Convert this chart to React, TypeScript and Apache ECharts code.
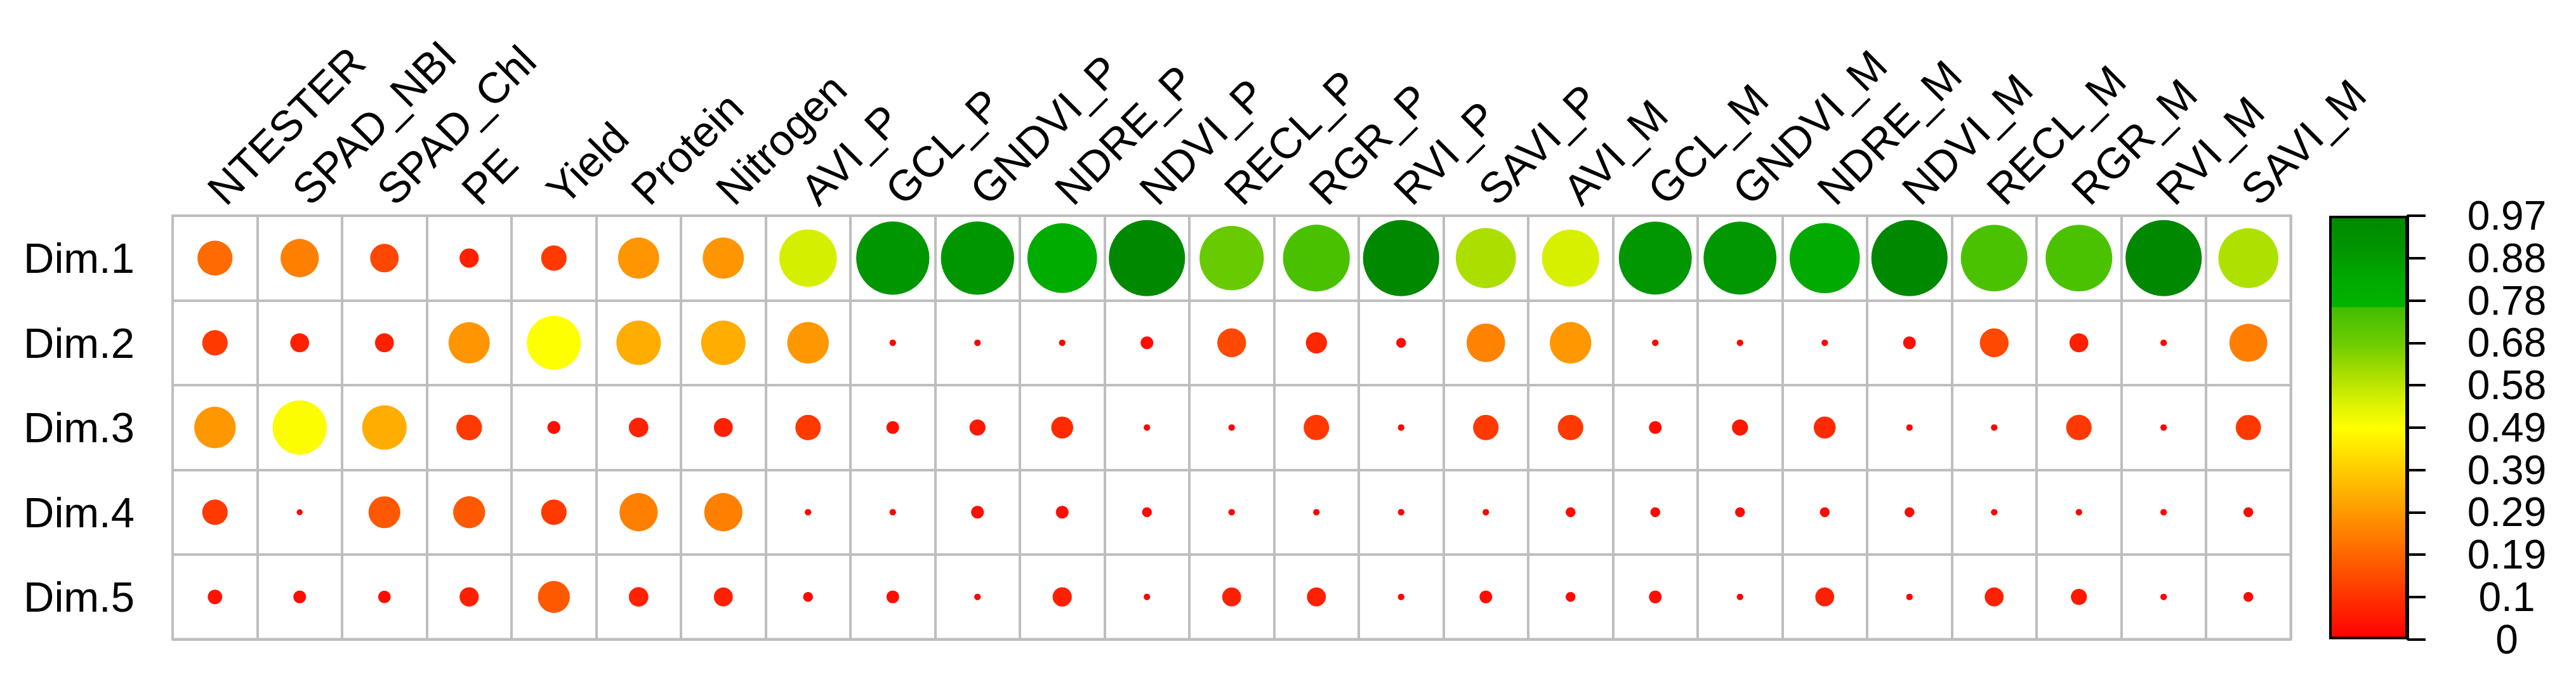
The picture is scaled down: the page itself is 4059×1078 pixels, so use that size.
import React, { useEffect, useRef } from "react";
import * as echarts from "echarts";

// ---------- data ----------
const variables = [
  "NTESTER", "SPAD_NBI", "SPAD_Chl", "PE", "Yield", "Protein", "Nitrogen",
  "AVI_P", "GCL_P", "GNDVI_P", "NDRE_P", "NDVI_P", "RECL_P", "RGR_P", "RVI_P", "SAVI_P",
  "AVI_M", "GCL_M", "GNDVI_M", "NDRE_M", "NDVI_M", "RECL_M", "RGR_M", "RVI_M", "SAVI_M",
];
const dims = ["Dim.1", "Dim.2", "Dim.3", "Dim.4", "Dim.5"];

const dim1 = [0.204, 0.244, 0.135, 0.062, 0.108, 0.283, 0.283, 0.551, 0.894, 0.894, 0.81, 0.97, 0.69, 0.745, 0.97, 0.604, 0.546, 0.888, 0.888, 0.823, 0.97, 0.742, 0.742, 0.97, 0.599];
const dim2 = [0.108, 0.06, 0.06, 0.283, 0.486, 0.33, 0.33, 0.287, 0.007, 0.007, 0.007, 0.027, 0.138, 0.075, 0.016, 0.247, 0.287, 0.007, 0.007, 0.007, 0.027, 0.138, 0.06, 0.007, 0.24];
const dim3 = [0.287, 0.49, 0.33, 0.11, 0.028, 0.064, 0.06, 0.108, 0.027, 0.043, 0.08, 0.007, 0.007, 0.108, 0.007, 0.108, 0.108, 0.027, 0.043, 0.08, 0.007, 0.007, 0.108, 0.007, 0.106];
const dim4 = [0.108, 0.006, 0.168, 0.17, 0.108, 0.244, 0.244, 0.007, 0.007, 0.027, 0.027, 0.016, 0.007, 0.007, 0.007, 0.007, 0.016, 0.016, 0.016, 0.016, 0.016, 0.007, 0.007, 0.007, 0.016];
const dim5 = [0.035, 0.027, 0.026, 0.062, 0.17, 0.064, 0.06, 0.016, 0.027, 0.007, 0.062, 0.007, 0.06, 0.06, 0.007, 0.027, 0.016, 0.027, 0.007, 0.06, 0.007, 0.06, 0.043, 0.007, 0.016];

const colorbarTicks = ["0", "0.1", "0.19", "0.29", "0.39", "0.49", "0.58", "0.68", "0.78", "0.88", "0.97"];
const VALUE_MIN = 0;
const VALUE_MAX = 0.97;

// ---------- style ----------
const colorStops: [number, string][] = [
  [0, "#FF0000"],
  [0.5, "#FFFF00"],
  [0.565, "#D6F000"],
  [0.62, "#AEE000"],
  [0.7, "#6ECC00"],
  [0.785, "#40BE00"],
  [0.787, "#00B400"],
  [0.85, "#00AA00"],
  [0.92, "#009600"],
  [1, "#008800"],
];

const W = 4059;
const H = 1078;
const CELL = 133.5;
const GRID_LEFT = 272;
const GRID_TOP = 340;
const GRID_W = CELL * variables.length;
const GRID_H = CELL * dims.length;
const FONT = "Liberation Sans, Arial, Helvetica, sans-serif";
const GRID_COLOR = "#BEBEBE";

function hexToRgb(h: string) {
  const n = parseInt(h.slice(1), 16);
  return [(n >> 16) & 255, (n >> 8) & 255, n & 255];
}
function rampColor(f: number) {
  for (let i = 1; i < colorStops.length; i++) {
    const [f1, c1] = colorStops[i];
    const [f0, c0] = colorStops[i - 1];
    if (f <= f1) {
      const t = (f - f0) / (f1 - f0 || 1);
      const a = hexToRgb(c0);
      const b = hexToRgb(c1);
      const r = a.map((v, k) => Math.round(v + (b[k] - v) * t));
      return `rgb(${r[0]},${r[1]},${r[2]})`;
    }
  }
  return colorStops[colorStops.length - 1][1];
}

export default function App() {
  const ref = useRef<HTMLDivElement>(null);

  useEffect(() => {
    if (!ref.current) return;
    const chart = echarts.init(ref.current, undefined, { renderer: "svg" });

    const rows = [dim1, dim2, dim3, dim4, dim5];
    const points: number[][] = [];
    rows.forEach((row, r) => row.forEach((v, c) => points.push([c, r, v])));

    const ramp: string[] = [];
    const N = 300;
    for (let i = 0; i <= N; i++) ramp.push(rampColor(i / N));

    const gradStops = colorStops.map(([f, c]) => ({ offset: 1 - f, color: c })).reverse();

    chart.setOption({
      animation: false,
      backgroundColor: "#FFFFFF",
      textStyle: { fontFamily: FONT },
      grid: [
        {
          left: GRID_LEFT, top: GRID_TOP, width: GRID_W, height: GRID_H,
          show: true, borderColor: GRID_COLOR, borderWidth: 4, backgroundColor: "transparent",
        },
        { left: 3670, top: GRID_TOP, width: 124, height: GRID_H },
      ],
      visualMap: {
        type: "continuous",
        show: false,
        min: VALUE_MIN,
        max: VALUE_MAX,
        dimension: 2,
        seriesIndex: 0,
        inRange: { color: ramp },
      },
      xAxis: [
        {
          type: "category",
          gridIndex: 0,
          data: variables,
          position: "top",
          boundaryGap: true,
          axisLine: { show: false },
          axisTick: { show: false },
          splitLine: { show: true, lineStyle: { color: GRID_COLOR, width: 4 } },
          axisLabel: {
            interval: 0,
            rotate: -45,
            margin: 30,
            verticalAlign: "middle",
            fontSize: 68,
            color: "#000",
            fontFamily: FONT,
          },
        },
        {
          type: "category",
          gridIndex: 1,
          data: [""],
          show: false,
        },
      ],
      yAxis: [
        {
          type: "category",
          gridIndex: 0,
          data: dims,
          inverse: true,
          boundaryGap: true,
          axisLine: { show: false },
          axisTick: { show: false },
          splitLine: { show: true, lineStyle: { color: GRID_COLOR, width: 4 } },
          axisLabel: { fontSize: 67, color: "#000", margin: 60, fontFamily: FONT },
        },
        {
          type: "value",
          gridIndex: 1,
          position: "right",
          min: 0,
          max: colorbarTicks.length - 1,
          interval: 1,
          axisLine: { show: true, lineStyle: { color: "#000", width: 4 } },
          axisTick: { show: true, inside: false, length: 28, lineStyle: { color: "#000", width: 4 } },
          splitLine: { show: false },
          axisLabel: {
            fontSize: 64,
            lineHeight: 60,
            color: "#000",
            align: "center",
            margin: 156,
            showMinLabel: true,
            showMaxLabel: true,
            hideOverlap: false,
            fontFamily: FONT,
            formatter: (v: number) => colorbarTicks[Math.round(v)] ?? "",
          },
        },
      ],
      series: [
        {
          type: "scatter",
          xAxisIndex: 0,
          yAxisIndex: 0,
          data: points,
          symbol: "circle",
          symbolSize: (val: number[]) => CELL * 0.9 * Math.sqrt(Math.max(val[2], 0) / VALUE_MAX),
          itemStyle: { opacity: 1 },
          silent: true,
          z: 5,
        },
        {
          type: "bar",
          xAxisIndex: 1,
          yAxisIndex: 1,
          data: [colorbarTicks.length - 1],
          barWidth: "100%",
          silent: true,
          itemStyle: {
            color: new echarts.graphic.LinearGradient(0, 0, 0, 1, gradStops),
            borderColor: "#000",
            borderWidth: 4,
          },
        },
      ],
    });

    return () => chart.dispose();
  }, []);

  return (
    <div
      ref={ref}
      style={{ position: "fixed", left: 0, top: 0, width: W, height: H, background: "#fff" }}
    />
  );
}
